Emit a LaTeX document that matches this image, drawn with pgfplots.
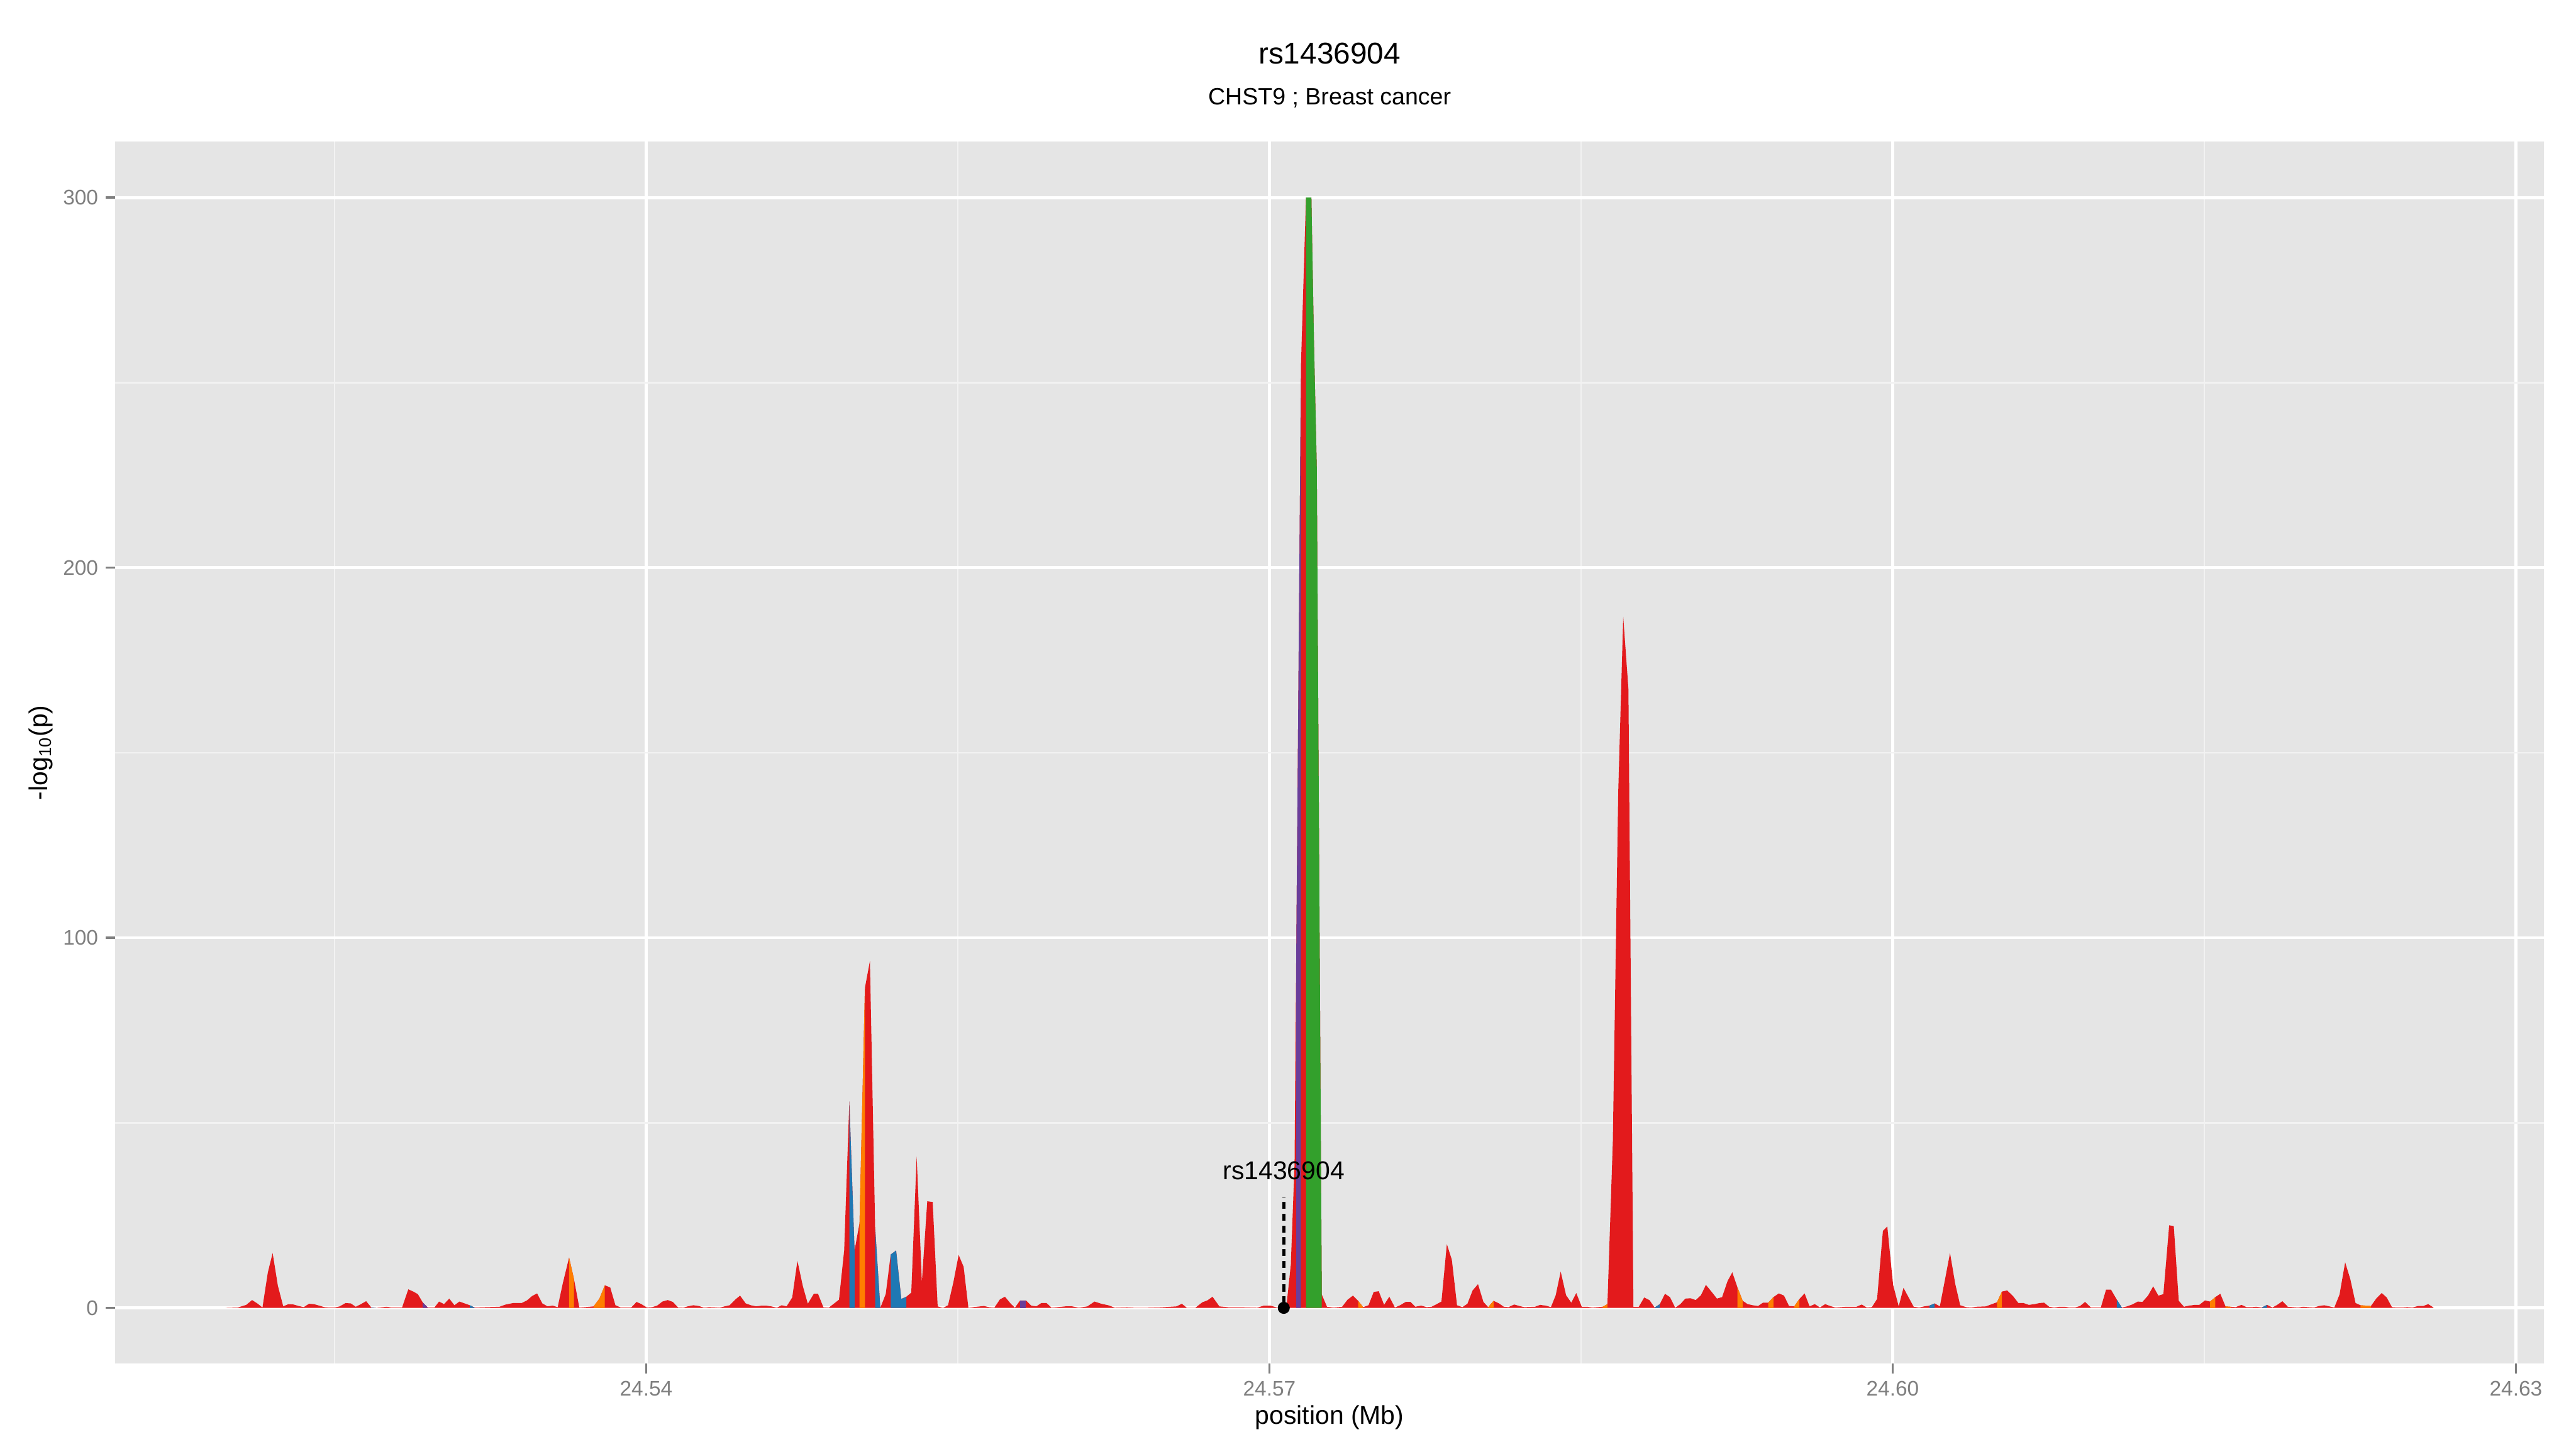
\documentclass[border=0pt]{standalone}
\usepackage{fontspec}
\setmainfont{Liberation Sans}
\usepackage{pgfplots}
\pgfplotsset{compat=1.18}
\definecolor{ggbg}{HTML}{E5E5E5}
\definecolor{ggminor}{HTML}{F2F2F2}
\definecolor{ggtext}{HTML}{7F7F7F}
\definecolor{ggred}{HTML}{E31A1C}
\definecolor{ggblue}{HTML}{1F78B4}
\definecolor{ggorange}{HTML}{FF7F00}
\definecolor{ggpurple}{HTML}{6A3D9A}
\definecolor{gggreen}{HTML}{33A02C}
\begin{document}
\begin{tikzpicture}
\path[use as bounding box] (0,0) rectangle (1200pt,675pt);
\begin{axis}[
 at={(53.75pt,39.75pt)}, anchor=south west,
 scale only axis, width=1131.25pt, height=569.25pt,
 xmin=24.51445, xmax=24.63134, ymin=-15.08, ymax=315.1,
 axis background/.style={fill=ggbg},
 axis line style={draw=none},
 xtick={24.54,24.57,24.60,24.63}, xticklabels={24.54,24.57,24.60,24.63},
 ytick={0,100,200,300}, yticklabels={0,100,200,300},
 minor xtick={24.525,24.555,24.585,24.615},
 minor ytick={50,150,250},
 grid=both,
 major grid style={white, line width=1.4pt},
 minor grid style={ggminor, line width=0.7pt},
 tick pos=left, tick align=outside,
 major tick length=4.5pt, minor tick length=0pt,
 major tick style={ggtext, line width=1.1pt},
 tick label style={font=\fontsize{9.8}{11}\selectfont, text=ggtext},
 scaled x ticks=false, scaled y ticks=false,
 xlabel={position (Mb)}, ylabel={-log\textsubscript{10}(p)},
 label style={font=\fontsize{12}{14}\selectfont},
 xlabel style={at={(axis description cs:0.5,-0.0496)}, anchor=base},
 ylabel style={at={(axis description cs:-0.0307,0.5)}, anchor=center},
 clip=false,
]
% main profile (red)
\addplot[fill=ggred, draw=none] coordinates {
(24.51976,0)(24.52034,0.1)(24.52075,0.8)(24.52103,2.1)(24.52128,1.2)(24.52153,0.1)(24.52179,9.6)(24.52202,14.8)(24.52227,6.0)(24.52253,0.4)
(24.52278,1.0)(24.52303,0.9)(24.52327,0.5)(24.52352,0.2)(24.52377,1.1)(24.52401,1.0)(24.52426,0.6)(24.52451,0.2)(24.52476,0.1)(24.52500,0.1)
(24.52525,0.4)(24.52553,1.3)(24.52578,1.2)(24.52602,0.3)(24.52627,1.0)(24.52652,1.8)(24.52677,0.1)(24.52701,0.0)(24.52751,0.3)(24.52775,0.1)
(24.52825,0.1)(24.52855,5.0)(24.52879,4.4)(24.52901,3.7)(24.52924,1.5)(24.52948,0.1)(24.52981,0.1)(24.53003,1.7)(24.53027,1.0)(24.53052,2.5)
(24.53077,0.7)(24.53101,1.7)(24.53126,1.2)(24.53151,0.7)(24.53174,0.1)(24.53294,0.3)(24.53324,0.9)(24.53360,1.3)(24.53401,1.3)(24.53426,2.0)
(24.53451,3.2)(24.53475,3.9)(24.53500,1.2)(24.53525,0.4)(24.53550,0.6)(24.53574,0.2)(24.53599,6.7)(24.53629,13.6)(24.53652,7.9)(24.53678,0.1)
(24.53706,0.2)(24.53747,0.4)(24.53775,2.5)(24.53801,6.1)(24.53827,5.5)(24.53852,0.7)(24.53878,0.1)(24.53928,0.1)(24.53954,1.6)(24.53977,1.0)
(24.54003,0.1)(24.54029,0.2)(24.54053,0.6)(24.54078,1.7)(24.54104,2.1)(24.54128,1.6)(24.54154,0.1)(24.54178,0.05)(24.54200,0.4)(24.54227,0.7)
(24.54253,0.5)(24.54279,0.05)(24.54302,0.2)(24.54328,0.15)(24.54352,0.05)(24.54378,0.4)(24.54402,0.7)(24.54428,2.2)(24.54452,3.3)(24.54479,1.2)
(24.54504,0.7)(24.54530,0.4)(24.54556,0.6)(24.54576,0.6)(24.54602,0.4)(24.54629,0.05)(24.54652,0.7)(24.54676,0.4)(24.54703,2.8)(24.54728,12.7)
(24.54754,5.9)(24.54778,1.1)(24.54807,3.8)(24.54827,3.8)(24.54853,0.15)(24.54879,0.05)(24.54928,2.2)(24.54953,15.5)(24.54978,55.8)(24.55003,15.5)
(24.55027,22.9)(24.55053,86.5)(24.55077,93.7)(24.55102,21.8)(24.55127,0.0)(24.55153,3.7)(24.55177,14.4)(24.55203,15.5)(24.55228,2.4)(24.55252,3.0)
(24.55276,4.1)(24.55302,40.9)(24.55327,7.0)(24.55353,28.8)(24.55379,28.6)(24.55403,0.4)(24.55429,0.0)(24.55453,0.7)(24.55479,7.0)(24.55504,14.3)
(24.55528,11.1)(24.55551,0.0)(24.55574,0.2)(24.55626,0.5)(24.55649,0.2)(24.55676,0.05)(24.55703,2.3)(24.55727,3.0)(24.55755,1.1)(24.55775,0.05)
(24.55800,2.0)(24.55828,2.0)(24.55853,0.6)(24.55878,0.4)(24.55902,1.3)(24.55927,1.3)(24.55951,0.05)(24.56018,0.4)(24.56051,0.4)(24.56083,0.05)
(24.56124,0.4)(24.56158,1.7)(24.56191,1.1)(24.56224,0.7)(24.56256,0.05)(24.56314,0.15)(24.56347,0.05)(24.56413,0.05)(24.56478,0.15)(24.56553,0.4)
(24.56578,1.1)(24.56602,0.05)(24.56644,0.05)(24.56677,1.5)(24.56701,2.0)(24.56726,3.0)(24.56759,0.4)(24.56808,0.15)(24.56873,0.15)(24.56941,0.05)
(24.56973,0.6)(24.57005,0.6)(24.57039,0.05)(24.57069,0.0)(24.57082,0.5)(24.57103,11.7)(24.57121,39)(24.57129,95)(24.57152,255)(24.57176,300)
(24.57202,300)(24.57214,262)(24.57228,227)(24.57252,3.6)(24.57277,0.3)(24.57309,0.1)(24.57350,0.3)(24.57376,2.2)(24.57402,3.3)(24.57427,1.9)
(24.57451,0.2)(24.57477,0.7)(24.57502,4.3)(24.57526,4.5)(24.57552,0.8)(24.57577,3.0)(24.57604,0.1)(24.57629,0.7)(24.57656,1.6)(24.57679,1.6)
(24.57702,0.3)(24.57730,0.6)(24.57757,0.2)(24.57780,0.3)(24.57805,1.0)(24.57828,1.7)(24.57854,17.2)(24.57878,13.0)(24.57903,0.7)(24.57929,0.2)
(24.57953,1.1)(24.57978,4.7)(24.58004,6.4)(24.58030,1.6)(24.58053,0.2)(24.58079,1.9)(24.58105,1.2)(24.58128,0.3)(24.58151,0.2)(24.58178,0.9)
(24.58203,0.5)(24.58226,0.2)(24.58278,0.3)(24.58303,0.8)(24.58330,0.6)(24.58355,0.2)(24.58378,3.4)(24.58402,9.8)(24.58428,3.4)(24.58453,1.4)
(24.58477,4.0)(24.58503,0.3)(24.58529,0.3)(24.58555,0.1)(24.58578,0.2)(24.58604,0.3)(24.58627,1.0)(24.58653,45)(24.58679,139.4)(24.58703,186.7)
(24.58728,167.2)(24.58752,0.3)(24.58778,0.3)(24.58804,2.8)(24.58829,2.1)(24.58854,0.1)(24.58879,1.0)(24.58904,3.8)(24.58928,2.9)(24.58953,0.05)
(24.58978,1.0)(24.59002,2.5)(24.59027,2.6)(24.59052,2.1)(24.59077,3.4)(24.59101,6.2)(24.59126,4.5)(24.59154,2.5)(24.59179,2.9)(24.59205,7.2)
(24.59228,9.6)(24.59253,5.5)(24.59278,1.9)(24.59302,1.0)(24.59327,0.7)(24.59352,0.5)(24.59376,1.4)(24.59401,1.4)(24.59426,2.9)(24.59452,3.9)
(24.59477,3.3)(24.59501,0.5)(24.59526,0.4)(24.59551,2.4)(24.59576,3.9)(24.59600,0.4)(24.59625,1.0)(24.59650,0.1)(24.59675,1.0)(24.59699,0.5)
(24.59724,0.1)(24.59777,0.3)(24.59826,0.3)(24.59851,0.9)(24.59875,0.1)(24.59900,0.2)(24.59925,2.4)(24.59953,20.8)(24.59974,22.0)(24.60002,6.2)
(24.60029,0.4)(24.60052,5.4)(24.60076,2.9)(24.60101,0.3)(24.60128,0.1)(24.60152,0.4)(24.60177,0.6)(24.60202,1.2)(24.60227,0.4)(24.60251,7.4)
(24.60276,14.8)(24.60301,6.5)(24.60325,0.7)(24.60353,0.2)(24.60378,0.1)(24.60403,0.3)(24.60449,0.4)(24.60473,0.9)(24.60502,1.5)(24.60526,4.4)
(24.60551,4.7)(24.60579,3.2)(24.60605,1.3)(24.60630,1.3)(24.60655,0.8)(24.60683,1.0)(24.60707,1.3)(24.60729,1.4)(24.60753,0.3)(24.60778,0.1)
(24.60803,0.3)(24.60828,0.3)(24.60852,0.1)(24.60877,0.1)(24.60902,0.5)(24.60926,1.6)(24.60954,0.1)(24.61002,0.1)(24.61027,4.9)(24.61051,4.9)
(24.61079,2.2)(24.61103,0.1)(24.61128,0.4)(24.61153,0.9)(24.61180,1.7)(24.61202,1.6)(24.61229,3.3)(24.61254,5.8)(24.61279,3.3)(24.61303,3.7)
(24.61331,22.3)(24.61353,22.1)(24.61377,1.9)(24.61402,0.3)(24.61427,0.6)(24.61454,0.8)(24.61476,0.8)(24.61503,2.0)(24.61528,1.7)(24.61553,2.9)
(24.61577,3.8)(24.61602,0.4)(24.61627,0.3)(24.61651,0.2)(24.61679,0.8)(24.61703,0.2)(24.61728,0.2)(24.61751,0.3)(24.61777,0.1)(24.61802,0.8)
(24.61828,0.1)(24.61851,0.8)(24.61876,1.8)(24.61902,0.3)(24.61926,0.2)(24.61951,0.1)(24.61976,0.3)(24.62000,0.2)(24.62028,0.1)(24.62052,0.5)
(24.62077,0.7)(24.62102,0.4)(24.62126,0.1)(24.62151,3.6)(24.62178,12.3)(24.62203,7.7)(24.62228,1.3)(24.62252,0.7)(24.62277,0.6)(24.62302,0.5)
(24.62329,2.6)(24.62354,4.0)(24.62378,2.8)(24.62403,0.2)(24.62428,0.1)(24.62452,0.1)(24.62477,0.2)(24.62502,0.1)(24.62529,0.5)(24.62554,0.5)
(24.62578,1.0)(24.62603,0.1)(24.62603,0)} -- cycle;
% coloured segments
\addplot[fill=ggblue, draw=none] coordinates {(24.52677,0)(24.52677,0.1)(24.52701,0.0)} -- cycle;
\addplot[fill=ggpurple, draw=none] coordinates {(24.52924,0)(24.52924,1.5)(24.52948,0.1)(24.52948,0)} -- cycle;
\addplot[fill=ggblue, draw=none] coordinates {(24.53151,0)(24.53151,0.7)(24.53174,0.1)(24.53174,0)} -- cycle;
\addplot[fill=ggorange, draw=none] coordinates {(24.53629,0)(24.53629,13.6)(24.53652,7.9)(24.53652,0)} -- cycle;
\addplot[fill=ggorange, draw=none] coordinates {(24.53747,0)(24.53747,0.4)(24.53775,2.5)(24.53801,6.1)(24.53801,0)} -- cycle;
\addplot[fill=ggblue, draw=none] coordinates {(24.54978,0)(24.54978,55.8)(24.55003,15.5)(24.55003,0)} -- cycle;
\addplot[fill=ggorange, draw=none] coordinates {(24.55027,0)(24.55027,22.9)(24.55053,86.5)(24.55053,0)} -- cycle;
\addplot[fill=ggblue, draw=none] coordinates {(24.55102,0)(24.55102,21.8)(24.55127,0.0)} -- cycle;
\addplot[fill=ggblue, draw=none] coordinates {(24.55177,0)(24.55177,14.4)(24.55203,15.5)(24.55228,2.4)(24.55252,3.0)(24.55252,0)} -- cycle;
\addplot[fill=ggpurple, draw=none] coordinates {(24.55800,0)(24.55800,2.0)(24.55828,2.0)(24.55828,0)} -- cycle;
\addplot[fill=ggpurple, draw=none] coordinates {(24.57129,0)(24.57129,95)(24.57152,255)(24.57152,0)} -- cycle;
\addplot[fill=gggreen, draw=none] coordinates {(24.57176,0)(24.57176,300)(24.57202,300)(24.57214,262)(24.57228,227)(24.57252,3.6)(24.57252,0)} -- cycle;
\addplot[fill=ggorange, draw=none] coordinates {(24.57427,0)(24.57427,1.9)(24.57451,0.2)(24.57451,0)} -- cycle;
\addplot[fill=ggorange, draw=none] coordinates {(24.58053,0)(24.58053,0.2)(24.58079,1.9)(24.58079,0)} -- cycle;
\addplot[fill=ggorange, draw=none] coordinates {(24.58604,0)(24.58604,0.3)(24.58627,1.0)(24.58627,0)} -- cycle;
\addplot[fill=ggblue, draw=none] coordinates {(24.58854,0)(24.58854,0.1)(24.58879,1.0)(24.58879,0)} -- cycle;
\addplot[fill=ggorange, draw=none] coordinates {(24.59253,0)(24.59253,5.5)(24.59278,1.9)(24.59278,0)} -- cycle;
\addplot[fill=ggorange, draw=none] coordinates {(24.59401,0)(24.59401,1.4)(24.59426,2.9)(24.59426,0)} -- cycle;
\addplot[fill=ggorange, draw=none] coordinates {(24.59526,0)(24.59526,0.4)(24.59551,2.4)(24.59551,0)} -- cycle;
\addplot[fill=ggblue, draw=none] coordinates {(24.60177,0)(24.60177,0.6)(24.60202,1.2)(24.60202,0)} -- cycle;
\addplot[fill=ggorange, draw=none] coordinates {(24.60502,0)(24.60502,1.5)(24.60526,4.4)(24.60526,0)} -- cycle;
\addplot[fill=ggblue, draw=none] coordinates {(24.61079,0)(24.61079,2.2)(24.61103,0.1)(24.61103,0)} -- cycle;
\addplot[fill=ggorange, draw=none] coordinates {(24.61528,0)(24.61528,1.7)(24.61553,2.9)(24.61553,0)} -- cycle;
\addplot[fill=ggorange, draw=none] coordinates {(24.61602,0)(24.61602,0.4)(24.61627,0.3)(24.61627,0)} -- cycle;
\addplot[fill=ggblue, draw=none] coordinates {(24.61777,0)(24.61777,0.1)(24.61802,0.8)(24.61802,0)} -- cycle;
\addplot[fill=ggorange, draw=none] coordinates {(24.62252,0)(24.62252,0.7)(24.62277,0.6)(24.62302,0.5)(24.62302,0)} -- cycle;
% index SNP annotation
\addplot[black, line width=1.6pt, dash pattern=on 3.3pt off 2.2pt] coordinates {(24.57069,1.2)(24.57069,30)};
\addplot[only marks, mark=*, mark size=2.6pt, black] coordinates {(24.57069,0)};
\node[anchor=base, font=\fontsize{12}{14}\selectfont] at (axis cs:24.57069,34.7) {rs1436904};
\end{axis}
\node[anchor=base, font=\fontsize{14}{16}\selectfont] at ([yshift=36.25pt]current axis.north) {rs1436904};
\node[anchor=base, font=\fontsize{11}{13}\selectfont] at ([yshift=17.25pt]current axis.north) {CHST9 ; Breast cancer};
\end{tikzpicture}
\end{document}
